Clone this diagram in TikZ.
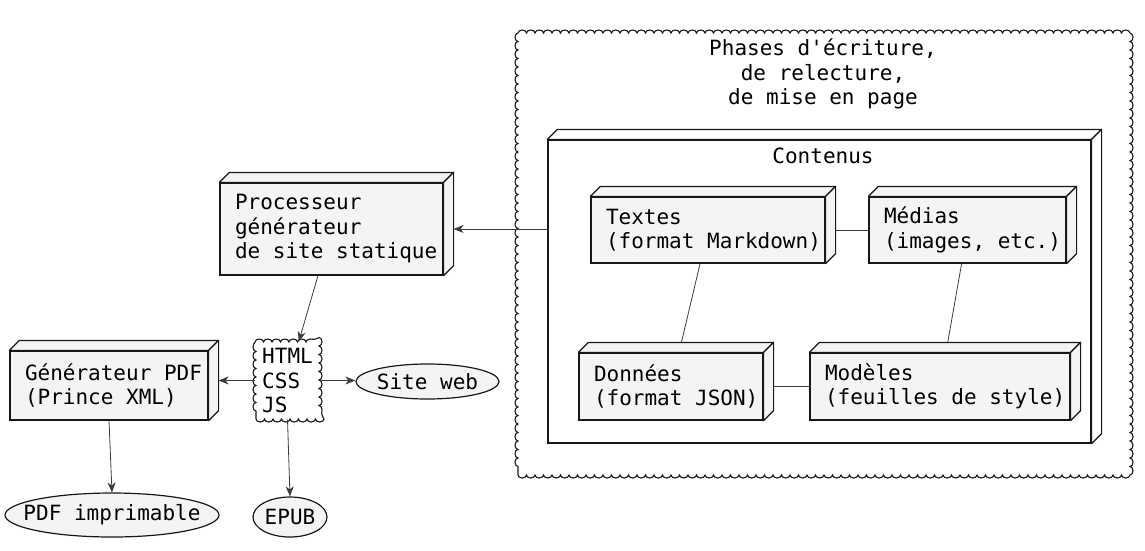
\documentclass[tikz,border=0pt]{standalone}
\usepackage{fontspec}
\setmonofont{DejaVu Sans Mono}
\usetikzlibrary{arrows.meta, backgrounds, decorations.pathmorphing, shapes.geometric}

\definecolor{boxfill}{HTML}{F4F4F4}
\definecolor{boxline}{HTML}{181818}
\definecolor{arrline}{HTML}{3C3C3C}
\newcommand{\diafont}{\ttfamily\fontsize{21}{24.5}\selectfont}

% top and right faces of a 3D box (depth 10)
\newcommand{\boxfaces}[2][boxfill]{%
  \filldraw[draw=boxline, fill=#1, line width=1.2pt, line join=round]
    (#2.north west) -- ++(10,-10) -- ([shift={(10,-10)}]#2.north east) -- (#2.north east) -- cycle;
  \filldraw[draw=boxline, fill=#1, line width=1.2pt, line join=round]
    (#2.north east) -- ([shift={(10,-10)}]#2.north east) -- ([shift={(10,-10)}]#2.south east) -- (#2.south east) -- cycle;
}

\begin{document}
\begin{tikzpicture}[x=1pt, y=-1pt, font=\diafont]
	\useasboundingbox (0,0) rectangle (1145,550);

	% define the styles of the objects
	\tikzstyle{dep box} = [draw=boxline, fill=boxfill, line width=1.2pt, align=left, inner sep=0pt, execute at begin node={\spaceskip=0pt\xspaceskip=0pt}]
	\tikzstyle{cloud box} = [draw=boxline, line width=1.1pt, decorate, decoration={bumps, mirror, segment length=17pt, amplitude=3pt}, align=left, inner sep=0pt]
	\tikzstyle{use case} = [draw=boxline, fill=boxfill, line width=1.2pt, ellipse, inner sep=0pt]
	\tikzstyle{arr} = [draw=arrline, line width=0.8pt, -{Stealth[length=10pt, width=8pt, inset=3pt]}]
	\tikzstyle{con line} = [draw=arrline, line width=0.8pt]

	% writing phases
	\node (phases) at (824,254) [cloud box, minimum width=612, minimum height=442] {};
	\node (title) at (823,74) [align=center] {Phases d'écriture,\\de relecture,\\de mise en page};
	\node (cont) at (819.5,291.5) [dep box, fill=none, minimum width=543, minimum height=303] {};
	\node (contlabel) at (823,156) {Contenus};
	\node (textes) at (708,230) [dep box, minimum width=234, minimum height=66, text width=204] {Textes\\\mbox{(format Markdown)}};
	\node (medias) at (967.5,230) [dep box, minimum width=197, minimum height=66, text width=167] {Médias\\\mbox{(images, etc.)}};
	\node (donnees) at (671,386.5) [dep box, minimum width=184, minimum height=67, text width=154] {Données\\\mbox{(format JSON)}};
	\node (modeles) at (940,386.5) [dep box, minimum width=260, minimum height=67, text width=230] {Modèles\\\mbox{(feuilles de style)}};
	\boxfaces[white]{cont}
	\boxfaces{textes}
	\boxfaces{medias}
	\boxfaces{donnees}
	\boxfaces{modeles}

	% processing and outputs
	\node (proc) at (331.5,229) [dep box, minimum width=223, minimum height=92, text width=193] {Processeur\\générateur\\\mbox{de site statique}};
	\node (gen) at (109,385.5) [dep box, minimum width=198, minimum height=69, text width=168] {\mbox{Générateur PDF}\\\mbox{(Prince XML)}};
	\boxfaces{proc}
	\boxfaces{gen}
	\node (html) at (287.5,380.5) [cloud box, fill=white, minimum width=63, minimum height=77] {HTML\\CSS\\JS};
	\node (site) at (427.5,381.5) [use case, minimum width=141, minimum height=35] {Site web};
	\node (pdf) at (112,515) [use case, inner xsep=-13pt, minimum width=214, minimum height=44] {PDF imprimable};
	\node (epub) at (290,517) [use case, minimum width=74, minimum height=40] {EPUB};
	\coordinate (procback) at ([xshift=10pt]proc.east);
	\coordinate (genback) at ([xshift=10pt]gen.east);

	\begin{scope}[on background layer]
		\draw[con line] (textes) -- (medias);
		\draw[con line] (textes) -- (donnees);
		\draw[con line] (medias) -- (modeles);
		\draw[con line] (donnees) -- (modeles);
	\end{scope}

	\draw[arr] (cont.west |- procback) -- (procback);
	\draw[arr] (proc) -- (html);
	\draw[arr] (html.west) -- (html.west -| genback);
	\draw[arr] (html.east) -- (html.east -| site.west);
	\draw[arr] (gen.south) -- (pdf.north);
	\draw[arr] (html.south) -- (epub.north);
\end{tikzpicture}
\end{document}
